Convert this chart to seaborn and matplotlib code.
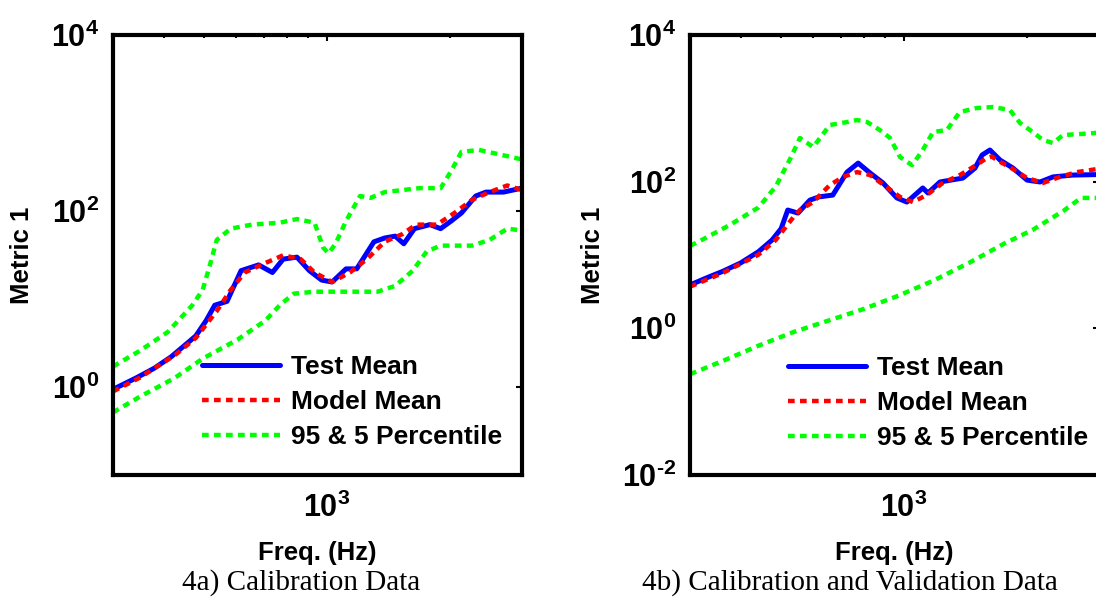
import numpy as np
import pandas as pd
import matplotlib
matplotlib.use("Agg")
import matplotlib.pyplot as plt
import matplotlib.ticker as mticker
from matplotlib.lines import Line2D
import seaborn as sns

# ---------------- Panel 4a: Calibration Data ----------------
a_test_freq = [300, 342, 378, 416, 478, 507, 532, 570, 587, 617, 681, 736, 782, 845, 906, 971,
               1030, 1114, 1183, 1242, 1303, 1384, 1469, 1542, 1637, 1786, 1897, 2014, 2133,
               2312, 2449, 2704, 3000]
a_test_val = [0.94, 1.27, 1.63, 2.2, 3.8, 5.7, 8.5, 9.4, 12.7, 21, 24.4, 20, 28.4, 29.9, 21, 16.4,
              15.6, 22, 22, 31.4, 44.6, 49.3, 51.8, 42.4, 63, 70, 63, 77, 95,
              148, 164, 164, 182]

a_model_freq = [300, 348, 425, 478, 538, 582, 630, 708, 782, 863, 933, 1030, 1138, 1253, 1384,
                1528, 1652, 1858, 2051, 2265, 2500, 2761, 3000]
a_model_val = [0.89, 1.27, 2.3, 3.6, 7.3, 12.7, 20, 25.7, 31.4, 28.4, 20, 15.6, 20, 28.4, 44.6,
               54.5, 70, 70, 95, 134, 164, 195, 173]

a_p95_freq = [300, 348, 408, 469, 497, 516, 538, 582, 655, 767, 845, 933, 979, 1009, 1050, 1114,
              1205, 1279, 1384, 1687, 1897, 2014, 2133, 2355, 2600, 3000]
a_p95_val = [1.71, 2.56, 4.2, 8.5, 12.7, 23, 46.9, 63, 70, 73.6, 81, 73.6, 38.4, 33, 42.4, 77,
             148, 141, 164, 182, 182, 285, 470, 494, 447, 385]

a_p5_freq = [300, 348, 425, 497, 605, 708, 767, 830, 933, 1138, 1330, 1469, 1622, 1754, 1897,
             2265, 2500, 2761, 3000]
a_p5_val = [0.515, 0.77, 1.27, 2.1, 3.46, 5.7, 8.5, 11.5, 12.1, 12.1, 12.1, 14.1, 21, 34.7, 40.4,
            40.4, 47, 63, 60]

# ---------------- Panel 4b: Calibration and Validation Data ----------------
b_test_freq = [300, 327, 361, 399, 441, 476, 501, 520, 551, 589, 620, 670, 726, 773, 827, 889,
               961, 1017, 1112, 1145, 1225, 1394, 1492, 1553, 1623, 1718, 1848, 2000, 2152, 2314,
               2588, 3000]
b_test_val = [3.9, 4.8, 6.0, 7.8, 11.1, 16, 22.9, 41, 37.3, 56, 62, 65.6, 135, 179, 131, 96,
              60, 52.7, 82, 70, 99, 112, 153, 231, 270, 197, 153, 105, 99, 116,
              123, 125]

b_model_freq = [300, 361, 441, 486, 537, 557, 600, 659, 710, 768, 827, 908, 978, 1052, 1138, 1245,
                1370, 1475, 1596, 1640, 1687, 1815, 2000, 2188, 2405, 2648, 3000]
b_model_val = [3.7, 5.7, 10.1, 16, 32.9, 41, 52.7, 90, 116, 135, 123, 84, 62, 52.7, 66, 96,
               123, 158, 210, 220, 197, 158, 112, 96, 116, 135, 150]

b_p95_freq = [300, 327, 376, 441, 486, 526, 557, 600, 659, 726, 768, 813, 873, 925, 978, 1047,
              1112, 1178, 1274, 1370, 1508, 1652, 1815, 1923, 2033, 2188, 2314, 2449, 2694, 3000]
b_p95_val = [13.3, 17, 25.8, 44.5, 86, 200, 394, 297, 592, 650, 692, 650, 506, 394, 217, 168,
             270, 475, 506, 891, 1010, 1042, 948, 630, 506, 370, 336, 432, 446, 465]

b_p5_freq = [300, 361, 441, 537, 655, 796, 970, 1183, 1442, 1754, 2065, 2455, 2710, 3000]
b_p5_val = [0.237, 0.36, 0.58, 0.89, 1.28, 1.83, 2.79, 4.5, 7.8, 14.2, 22, 40, 60, 60]

legend_labels = ["Test Mean", "Model Mean", "95 & 5 Percentile"]
captions = ["4a) Calibration Data", "4b) Calibration and Validation Data"]
x_label = "Freq. (Hz)"
y_label = "Metric 1"

# ---------------- styling ----------------
sns.set_theme(style="white")
plt.rcParams['font.family'] = ['Liberation Sans', 'DejaVu Sans']
plt.rcParams['mathtext.fontset'] = 'custom'
plt.rcParams['mathtext.rm'] = 'Liberation Sans:bold'
plt.rcParams['mathtext.bf'] = 'Liberation Sans:bold'
plt.rcParams['mathtext.it'] = 'Liberation Sans:bold'
plt.rcParams['mathtext.sf'] = 'Liberation Sans:bold'
plt.rcParams['text.color'] = 'black'
plt.rcParams['axes.labelcolor'] = 'black'
plt.rcParams['xtick.color'] = 'black'
plt.rcParams['ytick.color'] = 'black'

BLUE = (0, 0, 1)
RED = (1, 0, 0)
GREEN = (0, 1, 0)
DOT = (0, (1.5, 1.2))

fig = plt.figure(figsize=(10.96, 5.99), dpi=100)
ax_a = fig.add_axes([0.1031, 0.2070, 0.3732, 0.7346])
ax_b = fig.add_axes([0.6296, 0.2070, 0.3732, 0.7346])


def pow_fmt(v, pos):
    e = int(round(np.log10(v)))
    if e < 0:
        return r'$\mathbf{10^{\text{-}%d}}$' % (-e)
    return r'$\mathbf{10^{%d}}$' % e


def draw(ax, test, model, p95, p5, ylim, yticks, leg_xy):
    for (fr, va), col, ls, lw in [
        (p95, GREEN, DOT, 3.2), (p5, GREEN, DOT, 3.2),
        (test, BLUE, '-', 3.6), (model, RED, DOT, 3.2)]:
        df = pd.DataFrame({"freq": fr, "val": va})
        sns.lineplot(data=df, x="freq", y="val", ax=ax, color=col, linewidth=lw,
                     linestyle=ls, sort=False, estimator=None, legend=False)
    ax.set_xscale('log')
    ax.set_yscale('log')
    ax.set_xlim(300, 3000)
    ax.set_ylim(*ylim)
    ax.xaxis.set_major_locator(mticker.FixedLocator([1000]))
    ax.xaxis.set_minor_locator(mticker.FixedLocator([400, 500, 600, 700, 800, 900, 2000]))
    ax.xaxis.set_major_formatter(mticker.FuncFormatter(pow_fmt))
    ax.xaxis.set_minor_formatter(mticker.NullFormatter())
    ax.yaxis.set_major_locator(mticker.FixedLocator(yticks))
    ax.yaxis.set_minor_locator(mticker.NullLocator())
    ax.yaxis.set_major_formatter(mticker.FuncFormatter(pow_fmt))
    ax.tick_params(which='both', direction='in', top=True, right=True,
                   colors='black', width=1.5)
    ax.tick_params(which='major', length=4)
    ax.tick_params(which='minor', length=2.5)
    ax.tick_params(axis='y', which='major', labelsize=22, pad=10)
    ax.tick_params(axis='x', which='major', labelsize=22, pad=13)
    for sp in ax.spines.values():
        sp.set_visible(True)
        sp.set_color('black')
        sp.set_linewidth(3)
    ax.set_facecolor('white')
    ax.set_xlabel(x_label, fontsize=18.5, fontweight='bold', labelpad=12, color='black')
    ax.set_ylabel(y_label, fontsize=18.5, fontweight='bold', labelpad=12, color='black')
    handles = [Line2D([], [], color=BLUE, lw=3.6, ls='-'),
               Line2D([], [], color=RED, lw=3.2, ls=DOT),
               Line2D([], [], color=GREEN, lw=3.2, ls=DOT)]
    leg = ax.legend(handles, legend_labels, loc='upper left', bbox_to_anchor=leg_xy,
                    frameon=False, borderpad=0, borderaxespad=0, handlelength=2.95,
                    handletextpad=0.42, labelspacing=0.42,
                    prop={'family': 'Liberation Sans', 'weight': 'bold', 'size': 19})
    for t in leg.get_texts():
        t.set_color('black')


draw(ax_a, (a_test_freq, a_test_val), (a_model_freq, a_model_val),
     (a_p95_freq, a_p95_val), (a_p5_freq, a_p5_val),
     (1e-1, 1e4), [1e0, 1e2, 1e4], (0.218, 0.272))
draw(ax_b, (b_test_freq, b_test_val), (b_model_freq, b_model_val),
     (b_p95_freq, b_p95_val), (b_p5_freq, b_p5_val),
     (1e-2, 1e4), [1e-2, 1e0, 1e2, 1e4], (0.240, 0.270))

fig.text(301 / 1096, 1 - 583 / 599, captions[0], ha='center', va='center',
         family='Liberation Serif', fontsize=21, color='black')
fig.text(850 / 1096, 1 - 583 / 599, captions[1], ha='center', va='center',
         family='Liberation Serif', fontsize=21, color='black')

fig.savefig("out.png", dpi=100, facecolor='white')
